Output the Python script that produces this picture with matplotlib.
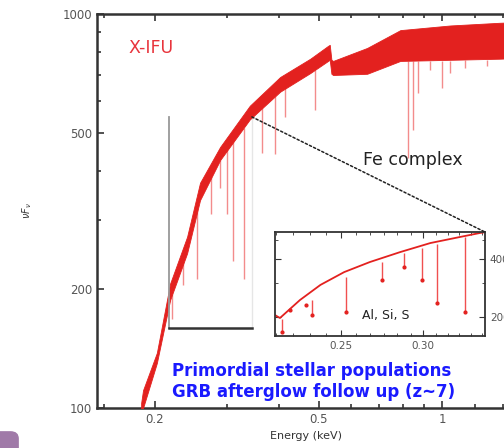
import numpy as np
import matplotlib.pyplot as plt
from matplotlib.patches import ConnectionPatch, FancyBboxPatch
from matplotlib.ticker import FixedLocator, NullFormatter

# X-IFU spectrum (keV, nuFnu)
band_E = [0.185, 0.187, 0.202, 0.2176, 0.2393, 0.2573, 0.288, 0.340, 0.403,
          0.477, 0.527, 0.532, 0.537, 0.542, 0.656, 0.79, 1.044, 1.38, 1.6]
band_lo = [95, 100, 130, 188, 247, 337, 426, 540, 635,
           708, 760, 765, 705, 700, 705, 760, 765, 770, 775]
band_hi = [103, 111, 138, 207, 272, 373, 460, 585, 692,
           770, 830, 835, 765, 760, 820, 910, 935, 950, 955]

# absorption lines: energy, continuum level, bottom of the line
line_E = [0.2194, 0.2233, 0.2314, 0.2345, 0.2530, 0.2740, 0.2875, 0.2990, 0.3093, 0.329,
          0.364, 0.392, 0.414, 0.490, 0.825, 0.849, 0.873, 0.933, 0.998, 1.044, 1.136, 1.285]
line_top = [195, 215, 235, 245, 320, 385, 425, 455, 475, 515,
            580, 620, 650, 720, 760, 760, 760, 760, 760, 760, 765, 765]
line_bottom = [168, 218, 231, 205, 212, 310, 362, 310, 236, 212,
               445, 440, 548, 571, 430, 508, 630, 720, 650, 708, 730, 740]

# zoomed continuum for the inset
inset_E = [0.2160, 0.2184, 0.2283, 0.2389, 0.2518, 0.2665, 0.2850, 0.3048, 0.3256, 0.3403, 0.345]
inset_flux = [205, 198, 245, 293, 341, 384, 432, 481, 517, 542, 548]

zoom_x = (0.216, 0.344)
zoom_y = (160, 548)

red = '#e3211f'
fig = plt.figure(figsize=(5.04, 4.48), dpi=100)
ax = fig.add_axes([0.1925, 0.0893, 0.829, 0.8795])
ax.set_xscale('log')
ax.set_yscale('log')
ax.fill_between(band_E, band_lo, band_hi, color=red, lw=0.6, zorder=3)
ax.vlines(line_E, line_bottom, line_top, color='#f07070', lw=1, alpha=0.8, zorder=2)
ax.set_xlim(0.1445, 1.5)
ax.set_ylim(100, 1000)

ax.xaxis.set_major_locator(FixedLocator([0.2, 0.5, 1]))
ax.set_xticklabels(['0.2', '0.5', '1'])
ax.xaxis.set_minor_locator(FixedLocator([0.15, 0.3, 0.4, 0.6, 0.7, 0.8, 0.9, 1.2, 1.4]))
ax.xaxis.set_minor_formatter(NullFormatter())
ax.yaxis.set_major_locator(FixedLocator([100, 200, 500, 1000]))
ax.set_yticklabels(['100', '200', '500', '1000'])
ax.yaxis.set_minor_locator(FixedLocator([300, 400, 600, 700, 800, 900]))
ax.yaxis.set_minor_formatter(NullFormatter())
ax.tick_params(which='both', direction='in', top=True, right=False, colors='#333333',
               labelsize=8.5, labelcolor='#555555', width=1.2)
ax.tick_params(which='major', length=5)
ax.tick_params(which='minor', length=3)
for s in ['left', 'bottom', 'top']:
    ax.spines[s].set_linewidth(1.8)
    ax.spines[s].set_color('#333333')
ax.spines['right'].set_visible(False)
ax.set_xlabel('Energy (keV)', fontsize=8, color='#333333', labelpad=4)
ax.set_ylabel(r'$\nu F_\nu$', fontsize=7, color='#333333')
ax.yaxis.set_label_coords(-0.15, 0.5)

# zoom bracket
ax.plot([zoom_x[0], zoom_x[0]], zoom_y, color='#999999', lw=1.3, zorder=4)
ax.plot(zoom_x, [zoom_y[0], zoom_y[0]], color='#333333', lw=1.8, zorder=4)
ax.plot([zoom_x[1], zoom_x[1]], zoom_y, color='#e6e6e6', lw=1, zorder=1)

ax.text(0.172, 820, 'X-IFU', color='#e8343c', fontsize=12.5, va='center')
ax.text(0.641, 426, 'Fe complex', color='#222222', fontsize=12.5, va='center')
ax.text(0.220, 124, 'Primordial stellar populations', color='#1a1aff',
        fontsize=12, fontweight='bold', va='center')
ax.text(0.220, 110, 'GRB afterglow follow up (z~7)', color='#1a1aff',
        fontsize=12, fontweight='bold', va='center')

# inset
ins = fig.add_axes([0.5456, 0.25, 0.4167, 0.2321])
ins.set_xscale('log')
ins.set_yscale('log')
ins.plot(inset_E, inset_flux, color=red, lw=1.3)
ins.vlines(line_E, line_bottom, line_top, color='#f05050', lw=1)
ins.plot(line_E, line_bottom, 'o', color=red, ms=2)
ins.set_xlim(*zoom_x)
ins.set_ylim(*zoom_y)
ins.xaxis.set_major_locator(FixedLocator([0.25, 0.30]))
ins.set_xticklabels(['0.25', '0.30'])
ins.xaxis.set_minor_locator(FixedLocator(0.2167 + np.arange(16) * 0.05 / 6))
ins.xaxis.set_minor_formatter(NullFormatter())
ins.yaxis.set_major_locator(FixedLocator([200, 400]))
ins.set_yticklabels(['200', '400'])
ins.yaxis.set_minor_locator(FixedLocator([300, 500]))
ins.yaxis.set_minor_formatter(NullFormatter())
ins.tick_params(which='both', direction='in', top=True, right=True, left=True,
                labelleft=False, labelright=True, colors='#333333',
                labelsize=7.5, labelcolor='#555555')
ins.tick_params(which='major', length=4)
ins.tick_params(which='minor', length=2.5)
for s in ins.spines.values():
    s.set_linewidth(1.3)
    s.set_color('#333333')
ins.text(0.262, 205, 'Al, Si, S', fontsize=9, color='#222222', va='center')

con = ConnectionPatch(xyA=(zoom_x[1], zoom_y[1]), coordsA=ax.transData,
                      xyB=(zoom_x[1], zoom_y[1]), coordsB=ins.transData,
                      color='#222222', lw=1.1, linestyle=(0, (1.5, 1.5)))
fig.add_artist(con)

fig.add_artist(FancyBboxPatch((-0.03, -0.03), 0.066, 0.066, boxstyle='round,pad=0,rounding_size=0.015',
                              transform=fig.transFigure, color='#a07aa8', clip_on=False))

plt.savefig('out.png', dpi=100)
